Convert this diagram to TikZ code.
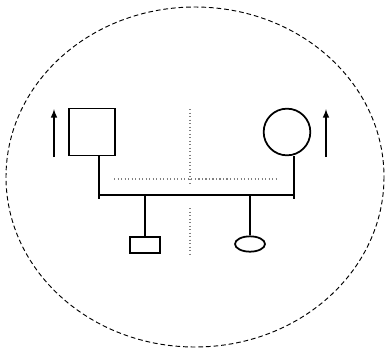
\documentclass[tikz,border=0pt]{standalone}
\usetikzlibrary{positioning,shapes.geometric}
\begin{document}
\begin{tikzpicture}[
    x=0.03cm, y=-0.03cm,
    person/.style={draw, line width=1.5pt, inner sep=0pt},
    link/.style={line width=1.5pt},
    guide/.style={gray, dotted, line width=1pt},
    >=latex
]
\useasboundingbox (0,0) rectangle (385,351);

% outer boundary
\draw[dash pattern=on 4pt off 2.5pt, line width=0.8pt] (195,177) ellipse [x radius=189, y radius=170];

% Parents
\node[person, rectangle, minimum width=1.38cm, minimum height=1.41cm] (fa) at (92,132) {};
\node[person, circle, minimum size=1.4cm] (mo) at (287,132) {};

% Children
\node[person, rectangle, minimum width=0.9cm, minimum height=0.48cm] (so) at (145,245) {};
\node[person, ellipse, minimum width=0.9cm, minimum height=0.46cm] (da) at (250,244) {};

% junction points
\coordinate (jl) at (99,195);
\coordinate (jr) at (294,195);
\coordinate (tl) at (99,199);
\coordinate (tr) at (294,199);

\draw[link] (fa.south -| jl) -- (tl);
\draw[link] (mo.south -| jr) -- (tr);
\draw[link] (jl) -- (jr);
\draw[link] (jl -| so) -- (so.north);
\draw[link] (jr -| da) -- (da.north);

% arrows beside parents
\coordinate (al0) at (54,157);
\coordinate (al1) at (54,109);
\coordinate (ar0) at (326,157);
\coordinate (ar1) at (326,109);
\draw[link, ->] (al0) -- (al1);
\draw[link, ->] (ar0) -- (ar1);

% dotted guides
\coordinate (g1) at (190,109);
\coordinate (g2) at (190,186);
\coordinate (g3) at (190,208);
\coordinate (g4) at (190,256);
\coordinate (h1) at (114,179);
\coordinate (h2) at (279,179);
\draw[guide] (g1) -- (g2);
\draw[guide] (g3) -- (g4);
\draw[guide] (h1) -- (h2);

\end{tikzpicture}
\end{document}
